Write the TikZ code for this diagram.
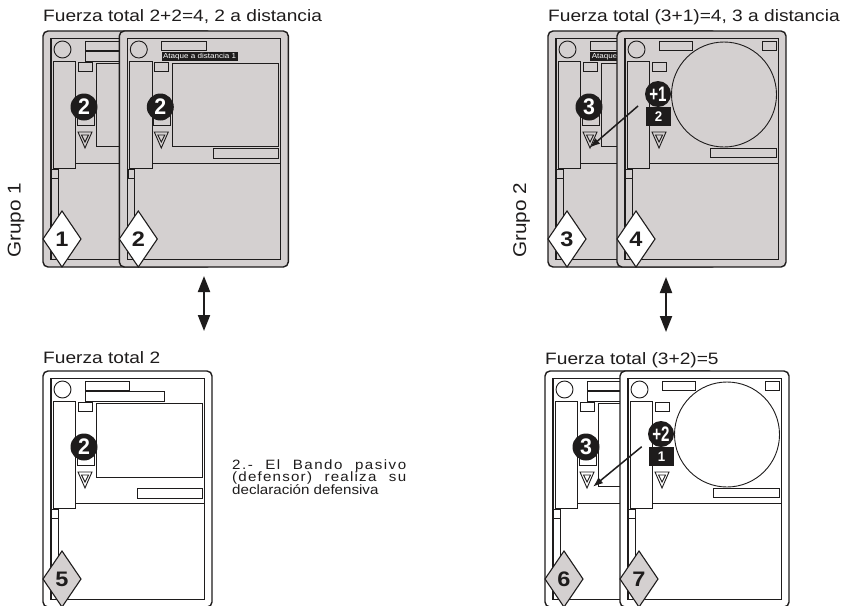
\documentclass[tikz,border=0pt]{standalone}
\usepackage{fontspec}
\setmainfont{Liberation Sans}
\newfontfamily\lab[FakeStretch=1.12]{Liberation Sans}
\newfontfamily\wide[FakeStretch=1.16]{Liberation Sans}
\newfontfamily\badgefnt[FakeStretch=0.95]{Liberation Sans}
\newfontfamily\narrowfnt[FakeStretch=0.72]{Liberation Sans}
\usetikzlibrary{arrows.meta}

\definecolor{ink}{RGB}{30,28,28}
\definecolor{cardgrey}{RGB}{212,208,208}

\tikzset{
  ln/.style={draw=ink, line width=0.9pt},
  frameln/.style={draw=ink, line width=1.1pt},
  cardframe/.style={draw=ink, line width=1.4pt, rounded corners=5pt,
    minimum width=169pt, minimum height=236pt, inner sep=0pt, outer sep=0pt},
  badge/.style={circle, fill=ink, text=white, minimum size=27pt, inner sep=0pt,
    font=\badgefnt\bfseries\fontsize{22.5}{22.5}\selectfont},
  plusbadge/.style={badge, minimum size=26pt,
    font=\narrowfnt\bfseries\fontsize{21}{21}\selectfont},
  numbox/.style={rectangle, fill=ink, text=white, minimum width=25pt,
    minimum height=19pt, inner sep=0pt,
    font=\badgefnt\bfseries\fontsize{14}{14}\selectfont},
  tagbox/.style={rectangle, fill=ink, text=white, minimum width=76pt,
    minimum height=9.3pt, inner sep=0pt,
    font=\lab\fontsize{7.2}{7.2}\selectfont},
  digit/.style={inner sep=0pt, text=ink, font=\lab\bfseries\fontsize{21}{21}\selectfont},
  title/.style={anchor=base west, inner sep=0pt, text=ink,
    font=\wide\fontsize{16.5}{16.5}\selectfont},
  grp/.style={anchor=base, rotate=90, inner sep=0pt, text=ink,
    font=\lab\fontsize{18.5}{18.5}\selectfont},
  note/.style={anchor=base west, inner sep=0pt, text=ink,
    font=\lab\fontsize{13.5}{13.5}\selectfont},
  pointer/.style={draw=ink, line width=1.5pt, -{Latex[length=10pt,width=7.5pt]}},
  swap/.style={draw=ink, line width=2pt,
    {Triangle[length=16pt,width=12pt]}-{Triangle[length=16pt,width=12pt]}},
}

% card outline, inner frame and the elements common to every card
\newcommand\cardshell[2]{%
  \node[cardframe, fill=#2] (#1) at (84.5,118) {};
  \draw[frameln] (8,7.5) rectangle (161.5,228.5);
  \draw[ln] (19.5,18.5) circle (8.5pt);
  \draw[ln] (10.3,30.7) rectangle (32.7,137.3);
  \draw[ln] (35.5,31) rectangle (49.5,40);
  \draw[ln] (32.7,132) -- (161.5,132);
  \draw[ln] (8.7,138) rectangle (15.5,147);
  \draw[ln] (15.5,147) -- (15.5,228.5);
  \draw[ln] (34,84) rectangle (51,94);
  \draw[ln] (35,101) -- (49,101) -- (42,117) -- cycle;
  \draw[ln] (38.5,104) -- (45.5,104) -- (42,111) -- cycle;
}

% card with a picture box and a plain black badge
\newcommand\boxcard[3]{%
  \draw[ln] (42.5,10.7) rectangle (86.7,19.7);
  \draw[ln] (53.5,32.3) rectangle (159.3,#3);
  \draw[ln] (94,117) rectangle (159.3,127);
  \node[badge] (#1) at (41,76) {#2};
}

% second header strip: plain, or the black ranged-attack tag
\newcommand\plainstrip{\draw[ln] (42.5,20.7) rectangle (121,30);}
\newcommand\attackstrip[1]{\node[tagbox] (#1) at (80.3,25.35) {Ataque a distancia 1};}

% card with the large round picture, bonus badge and value box
\newcommand\roundcard[3]{%
  \draw[ln] (42.5,10.7) rectangle (75,19.7);
  \draw[ln] (145,10.7) rectangle (159.3,19.7);
  \draw[ln] (107,63.5) circle (52.5pt);
  \draw[ln] (93,117) rectangle (159.3,126);
  \node[plusbadge] (#1) at (41,63) {#2};
  \node[numbox] (#1-box) at (41.5,85.5) {#3};
}

% numbered diamond in the lower left corner
\newcommand\carddiamond[3]{%
  \filldraw[ln, line width=1.1pt, fill=#2] (0,208) -- (19,180) -- (38,208) -- (19,236) -- cycle;
  \node[digit] (#1) at (19,208.5) {#3};
}

\begin{document}
\begin{tikzpicture}[x=1pt,y=-1pt]
\useasboundingbox (0,0) rectangle (842,605);
\clip (0,0) rectangle (842,605);
\fill[white] (0,0) rectangle (842,605);

% ---- Grupo 1 ----
\node[title] (t1) at (43,21.5) {Fuerza total 2+2=4, 2 a distancia};
\node[grp] (g1) at (20.5,220.5) {Grupo 1};
\begin{scope}[shift={(43,31)}]
  \cardshell{c1}{cardgrey}
  \boxcard{b1}{2}{115.7}
  \plainstrip
  \carddiamond{d1}{white}{1}
\end{scope}
\begin{scope}[shift={(119.3,31)}]
  \cardshell{c2}{cardgrey}
  \boxcard{b2}{2}{115.7}
  \attackstrip{tag2}
  \carddiamond{d2}{white}{2}
\end{scope}

% ---- Grupo 2 ----
\node[title] (t2) at (548,21.5) {Fuerza total (3+1)=4, 3 a distancia};
\node[grp] (g2) at (526,220.5) {Grupo 2};
\begin{scope}[shift={(548,31)}]
  \cardshell{c3}{cardgrey}
  \boxcard{b3}{3}{115.7}
  \attackstrip{tag3}
  \carddiamond{d3}{white}{3}
  \coordinate (t3) at (42,116.5);
\end{scope}
\begin{scope}[shift={(617,31)}]
  \cardshell{c4}{cardgrey}
  \roundcard{b4}{+1}{2}
  \carddiamond{d4}{white}{4}
  \coordinate (a4) at (21,75);
\end{scope}
\draw[pointer] (a4) -- (t3);

% ---- defenders ----
\node[title] (t5) at (43,363) {Fuerza total 2};
\begin{scope}[shift={(43,371)}]
  \cardshell{c5}{white}
  \boxcard{b5}{2}{106}
  \plainstrip
  \carddiamond{d5}{cardgrey}{5}
\end{scope}

\node[title] (t6) at (545,364) {Fuerza total (3+2)=5};
\begin{scope}[shift={(545,371)}]
  \cardshell{c6}{white}
  \boxcard{b6}{3}{115.7}
  \plainstrip
  \carddiamond{d6}{cardgrey}{6}
  \coordinate (t6p) at (48,115.7);
\end{scope}
\begin{scope}[shift={(620,371)}]
  \cardshell{c7}{white}
  \roundcard{b7}{+2}{1}
  \carddiamond{d7}{cardgrey}{7}
  \coordinate (a7) at (21.7,75.7);
\end{scope}
\draw[pointer] (a7) -- (t6p);

% ---- attacker / defender links ----
\coordinate (s1a) at (204,276);
\coordinate (s1b) at (204,331);
\coordinate (s2a) at (666,277);
\coordinate (s2b) at (666,332);
\draw[swap] (s1a) -- (s1b);
\draw[swap] (s2a) -- (s2b);

% ---- step description ----
\node[note] (m1) at (232,469) {\makebox[174pt][s]{\addfontfeature{LetterSpace=11}2.- El Bando pasivo}};
\node[note] (m2) at (232,481.5) {\makebox[174pt][s]{\addfontfeature{LetterSpace=9}(defensor) realiza su}};
\node[note] (m3) at (232,494) {declaración defensiva};
\end{tikzpicture}
\end{document}
